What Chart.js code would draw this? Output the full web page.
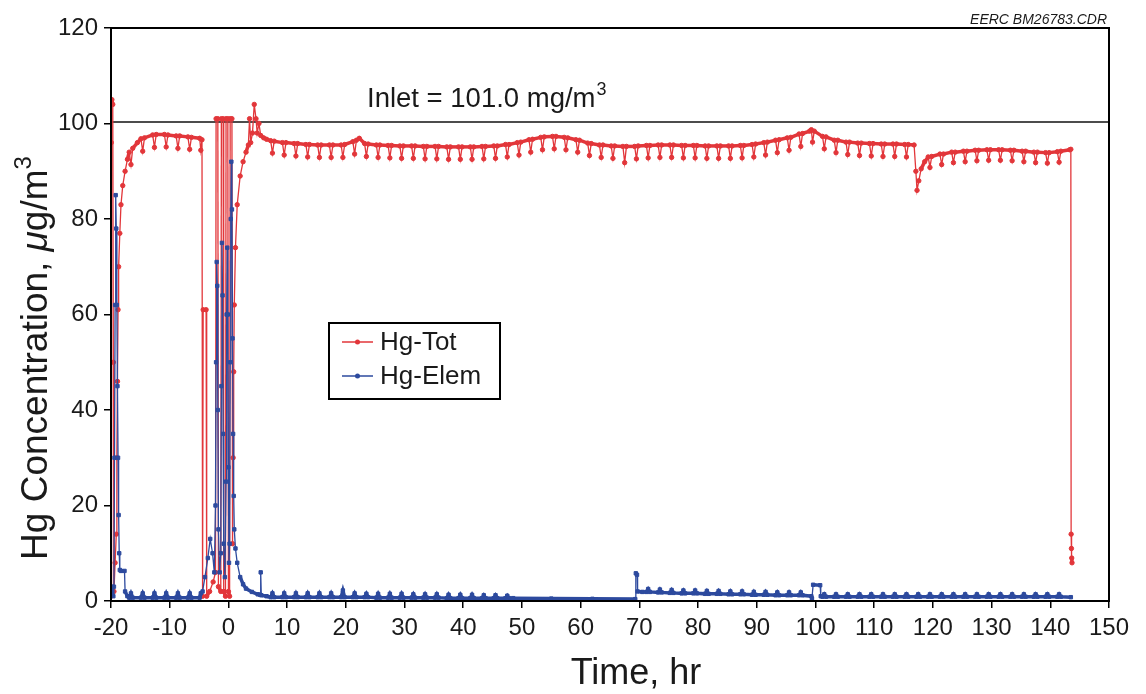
<!DOCTYPE html>
<html>
<head>
<meta charset="utf-8">
<script src="https://cdn.jsdelivr.net/npm/chart.js@4/dist/chart.umd.min.js"></script>
<style>
  html, body { margin: 0; padding: 0; background: #fff; }
</style>
</head>
<body>
<canvas id="hgChart" width="1146" height="694"></canvas>
<script>
// axis ticks
const timeTicks = { min: -20, max: 150, step: 10 };
const concTicks = { min: 0, max: 120, step: 20 };
const inletLevel = 100.3;

// Hg-Tot, [time hr, ug/m3]
const totStartup = [
  [-20.0, 1], [-19.95, 96], [-19.85, 105], [-19.7, 104], [-19.6, 50], [-19.5, 2],
  [-19.3, 8], [-19.1, 14], [-19.0, 30], [-18.9, 46], [-18.8, 61], [-18.7, 70],
  [-18.5, 77], [-18.3, 83], [-18.0, 87], [-17.6, 90], [-17.2, 92.5], [-16.9, 94],
  [-16.6, 91.4], [-16.3, 94.8], [-15.5, 96.0], [-14.9, 96.8], [-14.6, 94.2], [-14.3, 97.0],
  [-12.9, 97.6], [-12.6, 95.0], [-12.3, 97.7], [-10.9, 97.7], [-10.6, 95.1], [-10.3, 97.6],
  [-8.9, 97.4], [-8.6, 94.8], [-8.3, 97.4], [-6.9, 97.2], [-6.6, 94.6], [-6.3, 97.1],
  [-4.9, 96.9], [-4.7, 94.4], [-4.5, 96.6]
];
const totSpikes = [
  [-4.4, 1], [-4.3, 61], [-3.8, 61], [-3.7, 1], [-3.2, 2], [-2.6, 4], [-2.2, 6],
  [-2.1, 101], [-1.8, 101], [-1.7, 3], [-1.3, 2], [-1.2, 101], [-0.9, 101], [-0.8, 2],
  [-0.5, 1], [-0.4, 101], [-0.1, 101], [0.0, 2], [0.2, 1], [0.3, 101], [0.6, 101],
  [0.7, 12], [0.8, 30], [0.9, 48], [1.0, 62], [1.2, 74], [1.5, 83], [2.0, 89], [2.5, 92],
  [3.0, 94], [3.4, 95.5], [3.6, 101], [3.8, 96], [4.1, 98], [4.4, 104], [4.7, 101], [4.9, 98],
  [5.2, 100], [5.5, 97.5], [6.0, 97.0], [6.5, 96.7]
];
const totRun = [
  [7.2, 96.4], [7.5, 93.8], [7.8, 96.3], [9.2, 96.0], [9.5, 93.4], [9.8, 96.0],
  [11.2, 95.8], [11.5, 93.2], [11.8, 95.8], [13.2, 95.6], [13.5, 93.0], [13.8, 95.6],
  [15.2, 95.5], [15.5, 92.9], [15.8, 95.5], [17.2, 95.5], [17.5, 92.9], [17.8, 95.5],
  [19.2, 95.5], [19.5, 92.9], [19.8, 95.6], [21.2, 96.2], [21.5, 93.6], [21.8, 96.5], [22.3, 96.9],
  [23.2, 95.8], [23.5, 93.1], [23.8, 95.7], [25.2, 95.5], [25.5, 92.9], [25.8, 95.5],
  [27.2, 95.4], [27.5, 92.8], [27.8, 95.4], [29.2, 95.3], [29.5, 92.7], [29.8, 95.3],
  [31.2, 95.3], [31.5, 92.7], [31.8, 95.3], [33.2, 95.2], [33.5, 92.6], [33.8, 95.2],
  [35.2, 95.2], [35.5, 92.6], [35.8, 95.2], [37.2, 95.1], [37.5, 92.5], [37.8, 95.1],
  [39.2, 95.1], [39.5, 92.5], [39.8, 95.1], [41.2, 95.1], [41.5, 92.5], [41.8, 95.1],
  [43.2, 95.2], [43.5, 92.6], [43.8, 95.2], [45.2, 95.3], [45.5, 92.7], [45.8, 95.3],
  [47.2, 95.6], [47.5, 93.0], [47.8, 95.6], [49.2, 96.0], [49.5, 93.4], [49.8, 96.1],
  [51.2, 96.6], [51.5, 94.0], [51.8, 96.7], [53.2, 97.1], [53.5, 94.5], [53.8, 97.2],
  [55.2, 97.3], [55.5, 94.7], [55.8, 97.3], [57.2, 97.1], [57.5, 94.5], [57.8, 97.0],
  [59.2, 96.6], [59.5, 94.0], [59.8, 96.5], [61.2, 95.9], [61.5, 93.3], [61.8, 95.8],
  [63.2, 95.5], [63.5, 92.9], [63.8, 95.5], [65.2, 95.3], [65.5, 92.7], [65.8, 95.3],
  [67.2, 95.2], [67.5, 91.8], [67.8, 95.2], [69.2, 95.2], [69.5, 92.6], [69.8, 95.3],
  [71.2, 95.4], [71.5, 92.8], [71.8, 95.4], [73.2, 95.5], [73.5, 92.9], [73.8, 95.5],
  [75.2, 95.5], [75.5, 92.9], [75.8, 95.5], [77.2, 95.4], [77.5, 92.8], [77.8, 95.4],
  [79.2, 95.4], [79.5, 92.8], [79.8, 95.4], [81.2, 95.3], [81.5, 92.7], [81.8, 95.3],
  [83.2, 95.3], [83.5, 92.7], [83.8, 95.3], [85.2, 95.3], [85.5, 92.7], [85.8, 95.3],
  [87.2, 95.4], [87.5, 92.8], [87.8, 95.4], [89.2, 95.6], [89.5, 93.0], [89.8, 95.7],
  [91.2, 96.0], [91.5, 93.4], [91.8, 96.1], [93.2, 96.5], [93.5, 93.9], [93.8, 96.6],
  [95.2, 97.0], [95.5, 94.4], [95.8, 97.1], [97.2, 97.8], [97.5, 95.2], [97.8, 97.9],
  [99.0, 98.4], [99.3, 98.7], [99.5, 96.1], [99.8, 98.4], [101.2, 97.3], [101.5, 94.7], [101.8, 97.2],
  [103.2, 96.5], [103.5, 93.9], [103.8, 96.5], [105.2, 96.1], [105.5, 93.5], [105.8, 96.1],
  [107.2, 95.9], [107.5, 93.3], [107.8, 95.9], [109.2, 95.8], [109.5, 93.2], [109.8, 95.8],
  [111.2, 95.7], [111.5, 93.1], [111.8, 95.7], [113.2, 95.7], [113.5, 93.1], [113.8, 95.7],
  [115.2, 95.6], [115.5, 93.0], [115.8, 95.6], [116.8, 95.5], [117.1, 90], [117.3, 86],
  [117.6, 88], [118.0, 90.5], [118.6, 92.0], [119.2, 93.0], [119.5, 90.8], [119.8, 93.1],
  [121.2, 93.6], [121.5, 91.4], [121.8, 93.6], [123.2, 94.0], [123.5, 91.8], [123.8, 94.0],
  [125.2, 94.2], [125.5, 92.0], [125.8, 94.2], [127.2, 94.4], [127.5, 92.2], [127.8, 94.4],
  [129.2, 94.5], [129.5, 92.3], [129.8, 94.5], [131.2, 94.5], [131.5, 92.3], [131.8, 94.5],
  [133.2, 94.4], [133.5, 92.2], [133.8, 94.4], [135.2, 94.2], [135.5, 92.0], [135.8, 94.2],
  [137.2, 94.0], [137.5, 91.8], [137.8, 94.0], [139.2, 93.9], [139.5, 91.7], [139.8, 93.9],
  [141.2, 94.1], [141.5, 91.9], [141.8, 94.2], [143.3, 94.5], [143.5, 94.6],
  [143.55, 14], [143.6, 11], [143.65, 9], [143.7, 8]
];

// Hg-Elem, [time hr, ug/m3]
const elemStartup = [
  [-20.0, 1.5], [-19.8, 3], [-19.6, 1], [-19.5, 3], [-19.4, 30], [-19.3, 62], [-19.2, 85],
  [-19.1, 78], [-19.0, 62], [-18.9, 45], [-18.8, 30], [-18.7, 18], [-18.6, 10], [-18.5, 6.5],
  [-18.3, 6.3], [-17.7, 6.3], [-17.6, 2], [-17.2, 1.0],
  [-16.9, 0.7], [-16.6, 1.6], [-16.3, 0.7], [-14.9, 0.7], [-14.6, 1.6], [-14.3, 0.7],
  [-12.9, 0.7], [-12.6, 1.6], [-12.3, 0.7], [-10.9, 0.7], [-10.6, 1.6], [-10.3, 0.7],
  [-8.9, 0.7], [-8.6, 1.6], [-8.3, 0.7], [-6.9, 0.7], [-6.6, 1.6], [-6.3, 0.7],
  [-4.9, 0.7], [-4.7, 1.6]
];
const elemSpikes = [
  [-4.4, 2], [-4.0, 5], [-3.5, 9], [-3.1, 13], [-2.7, 10], [-2.4, 6], [-2.2, 20], [-2.1, 50],
  [-2.0, 71], [-1.9, 66], [-1.8, 40], [-1.7, 15], [-1.5, 6], [-1.3, 10], [-1.2, 45], [-1.1, 75],
  [-1.0, 64], [-0.9, 35], [-0.8, 12], [-0.6, 5], [-0.4, 25], [-0.3, 60], [-0.2, 74], [-0.1, 60],
  [0.0, 28], [0.1, 8], [0.2, 12], [0.3, 50], [0.4, 80], [0.5, 92], [0.6, 82], [0.7, 55],
  [0.8, 35], [0.9, 22], [1.0, 15], [1.2, 11], [1.5, 8], [2.0, 5], [2.5, 3.5], [3.0, 2.6],
  [4.0, 1.9], [5.0, 1.4], [5.4, 1.3], [5.5, 6], [5.6, 1.2], [6.5, 1.0]
];
const elemRun = [
  [7.2, 0.8], [7.5, 1.6], [7.8, 0.8], [9.2, 0.8], [9.5, 1.6], [9.8, 0.8],
  [11.2, 0.8], [11.5, 1.6], [11.8, 0.8], [13.2, 0.8], [13.5, 1.6], [13.8, 0.8],
  [15.2, 0.8], [15.5, 1.6], [15.8, 0.8], [17.2, 0.8], [17.5, 1.6], [17.8, 0.8],
  [19.2, 0.8], [19.5, 2.2], [19.8, 0.8], [21.2, 0.8], [21.5, 1.6], [21.8, 0.8],
  [23.2, 0.8], [23.5, 1.5], [23.8, 0.8], [25.2, 0.7], [25.5, 1.5], [25.8, 0.7],
  [27.2, 0.7], [27.5, 1.5], [27.8, 0.7], [29.2, 0.7], [29.5, 1.5], [29.8, 0.7],
  [31.2, 0.7], [31.5, 1.4], [31.8, 0.7], [33.2, 0.7], [33.5, 1.4], [33.8, 0.7],
  [35.2, 0.7], [35.5, 1.4], [35.8, 0.7], [37.2, 0.6], [37.5, 1.3], [37.8, 0.6],
  [39.2, 0.6], [39.5, 1.3], [39.8, 0.6], [41.2, 0.6], [41.5, 1.3], [41.8, 0.6],
  [43.2, 0.6], [43.5, 1.2], [43.8, 0.6], [45.2, 0.6], [45.5, 1.2], [45.8, 0.6],
  [47.2, 0.6], [47.5, 1.1], [47.8, 0.6],
  [48.5, 0.6], [55.0, 0.5], [62.0, 0.45], [69.3, 0.4], [69.4, 5.8], [69.6, 5.5],
  [69.7, 2.0], [70.5, 1.9],
  [71.2, 1.9], [71.5, 2.5], [71.8, 1.9], [73.2, 1.8], [73.5, 2.4], [73.8, 1.8],
  [75.2, 1.7], [75.5, 2.3], [75.8, 1.7], [77.2, 1.6], [77.5, 2.2], [77.8, 1.6],
  [79.2, 1.6], [79.5, 2.2], [79.8, 1.6], [81.2, 1.5], [81.5, 2.1], [81.8, 1.5],
  [83.2, 1.5], [83.5, 2.1], [83.8, 1.5], [85.2, 1.4], [85.5, 2.0], [85.8, 1.4],
  [87.2, 1.4], [87.5, 2.0], [87.8, 1.4], [89.2, 1.3], [89.5, 1.9], [89.8, 1.3],
  [91.2, 1.3], [91.5, 1.9], [91.8, 1.3], [93.2, 1.2], [93.5, 1.8], [93.8, 1.2],
  [95.2, 1.2], [95.5, 1.8], [95.8, 1.2], [97.2, 1.2], [97.5, 1.8], [97.8, 1.2],
  [99.3, 1.0], [99.4, 0.5], [99.6, 3.4], [100.8, 3.3], [100.9, 1.0],
  [101.2, 0.9], [101.5, 1.4], [101.8, 0.9], [103.2, 0.9], [103.5, 1.4], [103.8, 0.9],
  [105.2, 0.9], [105.5, 1.4], [105.8, 0.9], [107.2, 0.9], [107.5, 1.4], [107.8, 0.9],
  [109.2, 0.9], [109.5, 1.4], [109.8, 0.9], [111.2, 0.9], [111.5, 1.4], [111.8, 0.9],
  [113.2, 0.9], [113.5, 1.4], [113.8, 0.9], [115.2, 0.9], [115.5, 1.4], [115.8, 0.9],
  [117.2, 0.9], [117.5, 1.4], [117.8, 0.9], [119.2, 0.9], [119.5, 1.4], [119.8, 0.9],
  [121.2, 0.9], [121.5, 1.4], [121.8, 0.9], [123.2, 0.9], [123.5, 1.4], [123.8, 0.9],
  [125.2, 0.9], [125.5, 1.4], [125.8, 0.9], [127.2, 0.9], [127.5, 1.4], [127.8, 0.9],
  [129.2, 0.9], [129.5, 1.4], [129.8, 0.9], [131.2, 0.9], [131.5, 1.4], [131.8, 0.9],
  [133.2, 0.9], [133.5, 1.4], [133.8, 0.9], [135.2, 0.9], [135.5, 1.4], [135.8, 0.9],
  [137.2, 0.9], [137.5, 1.4], [137.8, 0.9], [139.2, 0.9], [139.5, 1.4], [139.8, 0.9],
  [141.2, 0.9], [141.5, 1.4], [141.8, 0.9], [143.5, 0.8]
];

const totColor = '#e2363a';
const elemColor = '#2d4a9e';
const fontFamily = '"Liberation Sans", Arial, Helvetica, sans-serif';

const toPoints = rows => rows.map(r => ({ x: r[0], y: r[1] }));
// dense samples look like a thick band, dips and jumps are thin lines
const segWidth = ctx => Math.abs(ctx.p1.y - ctx.p0.y) < 8 ? 3.5 : 1.3;

// box, text and titles that chart.js can't place the same way
const extras = {
  id: 'extras',
  afterDraw(chart) {
    const ctx = chart.ctx;
    const area = chart.chartArea;
    ctx.save();

    ctx.strokeStyle = '#000';
    ctx.lineWidth = 2;
    ctx.strokeRect(area.left, area.top, area.right - area.left, area.bottom - area.top);

    ctx.fillStyle = '#1a1a1a';
    ctx.textBaseline = 'alphabetic';
    ctx.textAlign = 'left';
    ctx.font = '27.5px ' + fontFamily;
    let txt = 'Inlet = 101.0 mg/m';
    ctx.fillText(txt, 367, 107);
    let w = ctx.measureText(txt).width;
    ctx.font = '18px ' + fontFamily;
    ctx.fillText('3', 367 + w + 1, 95);

    ctx.font = 'italic 14px ' + fontFamily;
    ctx.textAlign = 'right';
    ctx.fillText('EERC BM26783.CDR', 1107, 24);

    // x title
    ctx.font = '36px ' + fontFamily;
    ctx.textAlign = 'center';
    ctx.textBaseline = 'alphabetic';
    ctx.fillText('Time, hr', 636, 684);

    // y title
    ctx.save();
    ctx.translate(37, 358);
    ctx.rotate(-Math.PI / 2);
    const parts = [
      ['Hg Concentration, ', '37px ' + fontFamily, 0],
      ['\u03bc', 'italic 37px ' + fontFamily, 0],
      ['g/m', '37px ' + fontFamily, 0],
      ['3', '24px ' + fontFamily, -13]
    ];
    let total = 0;
    parts.forEach(p => { ctx.font = p[1]; total += ctx.measureText(p[0]).width; });
    let x = -total / 2;
    ctx.textAlign = 'left';
    ctx.textBaseline = 'middle';
    parts.forEach(p => {
      ctx.font = p[1];
      ctx.fillText(p[0], x, p[2]);
      x += ctx.measureText(p[0]).width;
    });
    ctx.restore();

    // legend
    ctx.lineWidth = 2;
    ctx.strokeStyle = '#000';
    ctx.strokeRect(329, 323, 171, 76);
    const rows = [
      { ds: chart.data.datasets[0], y: 342 },
      { ds: chart.data.datasets[1], y: 376 }
    ];
    ctx.font = '26px ' + fontFamily;
    ctx.textAlign = 'left';
    ctx.textBaseline = 'middle';
    rows.forEach(r => {
      ctx.strokeStyle = r.ds.borderColor;
      ctx.lineWidth = 1.5;
      ctx.beginPath();
      ctx.moveTo(342, r.y);
      ctx.lineTo(373, r.y);
      ctx.stroke();
      ctx.fillStyle = r.ds.borderColor;
      ctx.beginPath();
      ctx.arc(357.5, r.y, 2.5, 0, Math.PI * 2);
      ctx.fill();
      ctx.fillStyle = '#1a1a1a';
      ctx.fillText(r.ds.label, 380, r.y + 1);
    });
    ctx.restore();
  }
};

new Chart(document.getElementById('hgChart'), {
  type: 'line',
  data: {
    datasets: [
      {
        label: 'Hg-Tot',
        data: toPoints(totStartup.concat(totSpikes, totRun)),
        borderColor: totColor,
        backgroundColor: totColor,
        pointBackgroundColor: totColor,
        pointBorderColor: totColor,
        pointRadius: 2.2,
        pointBorderWidth: 1,
        borderWidth: 1.3,
        segment: { borderWidth: segWidth },
        tension: 0,
        order: 2
      },
      {
        label: 'Hg-Elem',
        data: toPoints(elemStartup.concat(elemSpikes, elemRun)),
        borderColor: elemColor,
        backgroundColor: elemColor,
        pointBackgroundColor: elemColor,
        pointBorderColor: elemColor,
        pointStyle: 'rect',
        pointRadius: 2.4,
        pointBorderWidth: 1,
        borderWidth: 1.6,
        segment: { borderWidth: segWidth },
        tension: 0,
        order: 1
      },
      {
        label: 'Inlet',
        data: [{ x: timeTicks.min, y: inletLevel }, { x: timeTicks.max, y: inletLevel }],
        borderColor: '#111',
        borderWidth: 1.6,
        pointRadius: 0,
        tension: 0,
        order: 3
      }
    ]
  },
  options: {
    responsive: false,
    animation: false,
    layout: { padding: { left: 0, right: 37, top: 28, bottom: 0 } },
    plugins: {
      legend: { display: false },
      tooltip: { enabled: false }
    },
    scales: {
      x: {
        type: 'linear',
        min: timeTicks.min,
        max: timeTicks.max,
        ticks: {
          stepSize: timeTicks.step,
          color: '#1a1a1a',
          font: { family: fontFamily, size: 24 },
          padding: 6,
          maxRotation: 0
        },
        grid: { drawOnChartArea: false, color: '#000', lineWidth: 1.5, tickLength: 7 },
        border: { color: '#000', width: 2 },
        afterFit: scale => { scale.height = 93; }
      },
      y: {
        min: concTicks.min,
        max: concTicks.max,
        ticks: {
          stepSize: concTicks.step,
          color: '#1a1a1a',
          font: { family: fontFamily, size: 24 },
          padding: 6
        },
        grid: { drawOnChartArea: false, color: '#000', lineWidth: 1.5, tickLength: 7 },
        border: { color: '#000', width: 2 },
        afterFit: scale => { scale.width = 111; }
      }
    }
  },
  plugins: [extras]
});
</script>
</body>
</html>
